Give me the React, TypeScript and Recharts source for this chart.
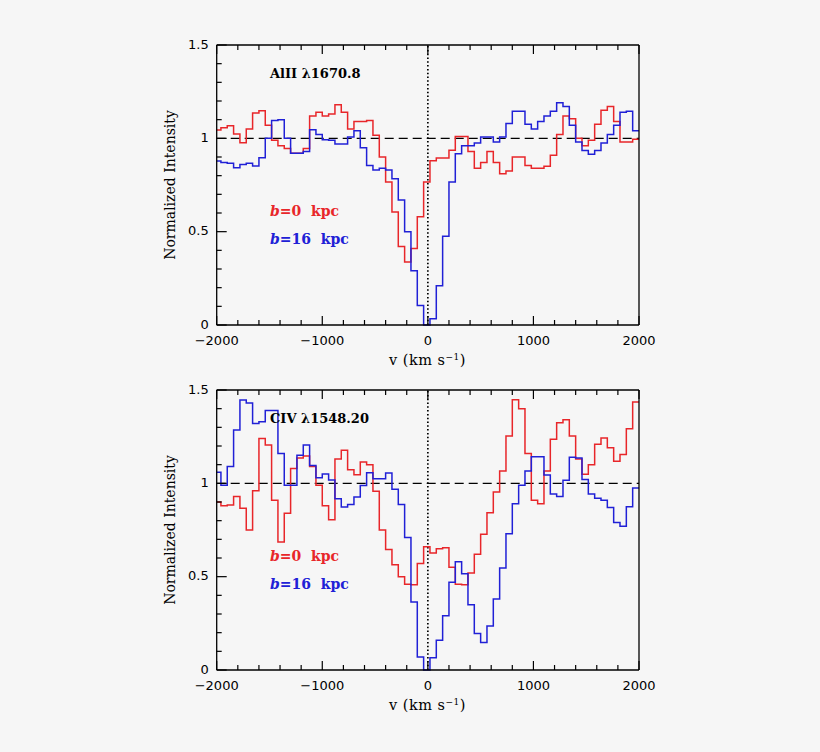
import React from "react";
import { LineChart, Line, XAxis, YAxis, ReferenceLine } from "recharts";

// left edge of each velocity bin (km/s)
const VELOCITY = [
  -2000, -1960, -1900, -1840, -1780, -1720, -1660, -1600, -1540, -1480, -1420,
  -1360, -1300, -1240, -1180, -1120, -1060, -1000, -940, -880, -820, -760, -700,
  -640, -580, -520, -460, -400, -340, -280, -220, -160, -100, -40, 20, 80, 140,
  200, 260, 320, 380, 440, 500, 560, 620, 680, 740, 800, 860, 920, 980, 1040,
  1100, 1160, 1220, 1280, 1340, 1400, 1460, 1520, 1580, 1640, 1700, 1760, 1820,
  1880, 1940,
];
const V_END = 2000;

// Al II 1670.8
const ALII_B0 = [
  1.045, 1.057, 1.068, 1.023, 0.977, 1.05, 1.136, 1.148, 1.07, 0.99, 0.96,
  0.945, 0.92, 0.92, 0.945, 1.12, 1.14, 1.12, 1.13, 1.18, 1.14, 1.05, 1.09,
  1.09, 1.096, 1.016, 0.9, 0.766, 0.605, 0.42, 0.337, 0.41, 0.58, 0.766, 0.88,
  0.895, 0.895, 0.936, 1.01, 1.01, 0.93, 0.84, 0.87, 0.93, 0.87, 0.81, 0.825,
  0.9, 0.9, 0.855, 0.84, 0.84, 0.85, 0.91, 1.02, 1.12, 1.105, 1.0, 0.96, 0.99,
  1.075, 1.15, 1.17, 1.09, 0.98, 0.98, 0.995,
];
const ALII_B16 = [
  0.878, 0.87, 0.866, 0.843, 0.86, 0.866, 0.852, 0.896, 1.0, 1.096, 1.1, 1.0,
  0.92, 0.92, 0.93, 1.046, 1.02, 0.993, 0.99, 0.97, 0.97, 1.007, 1.04, 0.95,
  0.855, 0.83, 0.84, 0.83, 0.784, 0.67, 0.5, 0.29, 0.105, 0.0, 0.034, 0.21,
  0.475, 0.766, 0.918, 0.96, 0.96, 0.975, 1.007, 1.007, 0.98, 1.007, 1.08,
  1.145, 1.145, 1.075, 1.05, 1.09, 1.12, 1.145, 1.19, 1.17, 1.07, 0.98, 0.935,
  0.915, 0.935, 0.975, 1.02, 1.07, 1.14, 1.145, 1.04,
];

// C IV 1548.20
const CIV_B0 = [
  0.9, 0.88, 0.884, 0.93, 0.866, 0.75, 0.96, 1.24, 1.205, 0.91, 0.686, 0.84,
  1.08, 1.136, 1.146, 1.09, 0.99, 0.88, 0.805, 1.13, 1.177, 1.073, 1.046,
  1.114, 1.1, 0.957, 0.75, 0.646, 0.564, 0.5, 0.46, 0.457, 0.57, 0.66, 0.627,
  0.65, 0.655, 0.55, 0.46, 0.457, 0.52, 0.62, 0.727, 0.843, 0.954, 1.066,
  1.254, 1.448, 1.4, 1.16, 0.91, 0.89, 1.066, 1.236, 1.325, 1.34, 1.254, 1.13,
  1.048, 1.1, 1.21, 1.243, 1.19, 1.118, 1.154, 1.293, 1.436,
];
const CIV_B16 = [
  1.06, 0.99, 1.09, 1.286, 1.446, 1.43, 1.32, 1.33, 1.39, 1.39, 1.16, 0.99,
  0.99, 1.15, 1.205, 1.095, 1.03, 1.05, 1.018, 0.918, 0.873, 0.887, 0.927,
  0.989, 1.057, 1.025, 1.025, 1.055, 0.968, 0.886, 0.71, 0.364, 0.07, 0.0,
  0.066, 0.16, 0.29, 0.47, 0.58, 0.515, 0.35, 0.195, 0.147, 0.236, 0.38,
  0.547, 0.73, 0.89, 0.99, 1.066, 1.143, 1.143, 1.045, 0.943, 0.93, 1.016,
  1.14, 1.136, 1.02, 0.943, 0.92, 0.91, 0.87, 0.79, 0.77, 0.875, 0.975,
];

const X_TICKS = [
  -2000, -1800, -1600, -1400, -1200, -1000, -800, -600, -400, -200, 0, 200,
  400, 600, 800, 1000, 1200, 1400, 1600, 1800, 2000,
];
const X_MAJOR = [-2000, -1000, 0, 1000, 2000];
const X_LABELS = ["\u22122000", "\u22121000", "0", "1000", "2000"];
const Y_TICKS = [
  0, 0.1, 0.2, 0.3, 0.4, 0.5, 0.6, 0.7, 0.8, 0.9, 1, 1.1, 1.2, 1.3, 1.4, 1.5,
];
const Y_MAJOR = [0, 0.5, 1, 1.5];
const Y_LABELS = ["0", "0.5", "1", "1.5"];

const RED = "#e8262a";
const BLUE = "#2020d6";
const BG = "#f6f6f6";
const TICK_FONT = "'DejaVu Sans', sans-serif";
const LABEL_FONT = "'DejaVu Serif', serif";

function buildRows(b0: number[], b16: number[]) {
  const rows = VELOCITY.map((v, i) => ({ v, b0: b0[i], b16: b16[i] }));
  rows.push({ v: V_END, b0: b0[b0.length - 1], b16: b16[b16.length - 1] });
  return rows;
}

const majorIndex = (list: number[], v: number) =>
  list.findIndex((m) => Math.abs(m - v) < 1e-6);

function xTick(side: "bottom" | "top") {
  return (props: any) => {
    const { x, y, payload } = props;
    const idx = majorIndex(X_MAJOR, payload.value);
    const len = idx >= 0 ? 9 : 5;
    const dir = side === "bottom" ? -1 : 1;
    return (
      <g>
        <line x1={x} x2={x} y1={y} y2={y + dir * len} stroke="#000" strokeWidth={1.2} />
        {side === "bottom" && idx >= 0 && (
          <text
            x={x}
            y={y + 19.5}
            textAnchor="middle"
            fontFamily={TICK_FONT}
            fontSize={13}
            fill="#000"
          >
            {X_LABELS[idx]}
          </text>
        )}
      </g>
    );
  };
}

function yTick(side: "left" | "right") {
  return (props: any) => {
    const { x, y, payload } = props;
    const idx = majorIndex(Y_MAJOR, payload.value);
    const len = idx >= 0 ? 10 : 5;
    const dir = side === "left" ? 1 : -1;
    return (
      <g>
        <line x1={x} x2={x + dir * len} y1={y} y2={y} stroke="#000" strokeWidth={1.2} />
        {side === "left" && idx >= 0 && (
          <text
            x={x - 8}
            y={y + 3.5}
            textAnchor="end"
            fontFamily={TICK_FONT}
            fontSize={13}
            fill="#000"
          >
            {Y_LABELS[idx]}
          </text>
        )}
      </g>
    );
  };
}

const AXIS_LINE = { stroke: "#000", strokeWidth: 1.3 };

function Panel({ b0, b16 }: { b0: number[]; b16: number[] }) {
  const rows = buildRows(b0, b16);
  return (
    <LineChart
      width={820}
      height={376}
      data={rows}
      margin={{ top: 44, bottom: 50, left: 215.7, right: 180 }}
    >
      <XAxis
        xAxisId="b"
        dataKey="v"
        type="number"
        domain={[-2000, 2000]}
        ticks={X_TICKS}
        interval={0}
        height={1}
        tickSize={0}
        tickMargin={0}
        tickLine={false}
        axisLine={AXIS_LINE}
        tick={xTick("bottom")}
      />
      <XAxis
        xAxisId="t"
        orientation="top"
        dataKey="v"
        type="number"
        domain={[-2000, 2000]}
        ticks={X_TICKS}
        interval={0}
        height={1}
        tickSize={0}
        tickMargin={0}
        tickLine={false}
        axisLine={AXIS_LINE}
        tick={xTick("top")}
      />
      <YAxis
        yAxisId="l"
        type="number"
        domain={[0, 1.5]}
        ticks={Y_TICKS}
        interval={0}
        width={1}
        tickSize={0}
        tickMargin={0}
        tickLine={false}
        axisLine={AXIS_LINE}
        tick={yTick("left")}
      />
      <YAxis
        yAxisId="r"
        orientation="right"
        type="number"
        domain={[0, 1.5]}
        ticks={Y_TICKS}
        interval={0}
        width={1}
        tickSize={0}
        tickMargin={0}
        tickLine={false}
        axisLine={AXIS_LINE}
        tick={yTick("right")}
      />
      <ReferenceLine
        xAxisId="b"
        yAxisId="l"
        y={1}
        stroke="#000"
        strokeWidth={1.2}
        strokeDasharray="9 5"
      />
      <ReferenceLine
        xAxisId="b"
        yAxisId="l"
        x={0}
        stroke="#000"
        strokeWidth={1.7}
        strokeDasharray="1.5 2.3"
      />
      <Line
        xAxisId="b"
        yAxisId="l"
        type="stepAfter"
        dataKey="b0"
        stroke={RED}
        strokeWidth={1.5}
        dot={false}
        isAnimationActive={false}
      />
      <Line
        xAxisId="b"
        yAxisId="l"
        type="stepAfter"
        dataKey="b16"
        stroke={BLUE}
        strokeWidth={1.5}
        dot={false}
        isAnimationActive={false}
      />
    </LineChart>
  );
}

const abs = (left: number, top: number): React.CSSProperties => ({
  position: "absolute",
  left,
  top,
  whiteSpace: "nowrap",
  lineHeight: 1,
});

function Texts({ offset, title }: { offset: number; title: string }) {
  return (
    <>
      <div
        style={{
          ...abs(170, 185 + offset),
          fontFamily: LABEL_FONT,
          fontSize: 14,
          transform: "translate(-50%, -50%) rotate(-90deg)",
        }}
      >
        Normalized Intensity
      </div>
      <div
        style={{
          ...abs(427.5, 360 + offset),
          fontFamily: LABEL_FONT,
          fontSize: 14.5,
          letterSpacing: 0.5,
          transform: "translate(-50%, -50%)",
        }}
      >
        v (km s<sup style={{ fontSize: 9, verticalAlign: "5px" }}>{"\u22121"}</sup>)
      </div>
      <div
        style={{
          ...abs(270, 73 + offset),
          fontFamily: LABEL_FONT,
          fontSize: 13,
          fontWeight: "bold",
          transform: "translateY(-50%)",
        }}
      >
        {title}
      </div>
      <div
        style={{
          ...abs(270, 211 + offset),
          fontFamily: LABEL_FONT,
          fontSize: 14,
          fontWeight: "bold",
          color: RED,
          transform: "translateY(-50%)",
        }}
      >
        <i>b</i>=0&nbsp; kpc
      </div>
      <div
        style={{
          ...abs(270, 239 + offset),
          fontFamily: LABEL_FONT,
          fontSize: 14,
          fontWeight: "bold",
          color: BLUE,
          transform: "translateY(-50%)",
        }}
      >
        <i>b</i>=16&nbsp; kpc
      </div>
    </>
  );
}

export default function App() {
  return (
    <div
      style={{
        position: "absolute",
        left: 0,
        top: 0,
        width: 820,
        height: 752,
        background: BG,
        overflow: "hidden",
      }}
    >
      <div style={{ position: "absolute", left: 0, top: 0 }}>
        <Panel b0={ALII_B0} b16={ALII_B16} />
      </div>
      <div style={{ position: "absolute", left: 0, top: 344.5 }}>
        <Panel b0={CIV_B0} b16={CIV_B16} />
      </div>
      <Texts offset={0} title={"AlII \u03bb1670.8"} />
      <Texts offset={345} title={"CIV \u03bb1548.20"} />
    </div>
  );
}
